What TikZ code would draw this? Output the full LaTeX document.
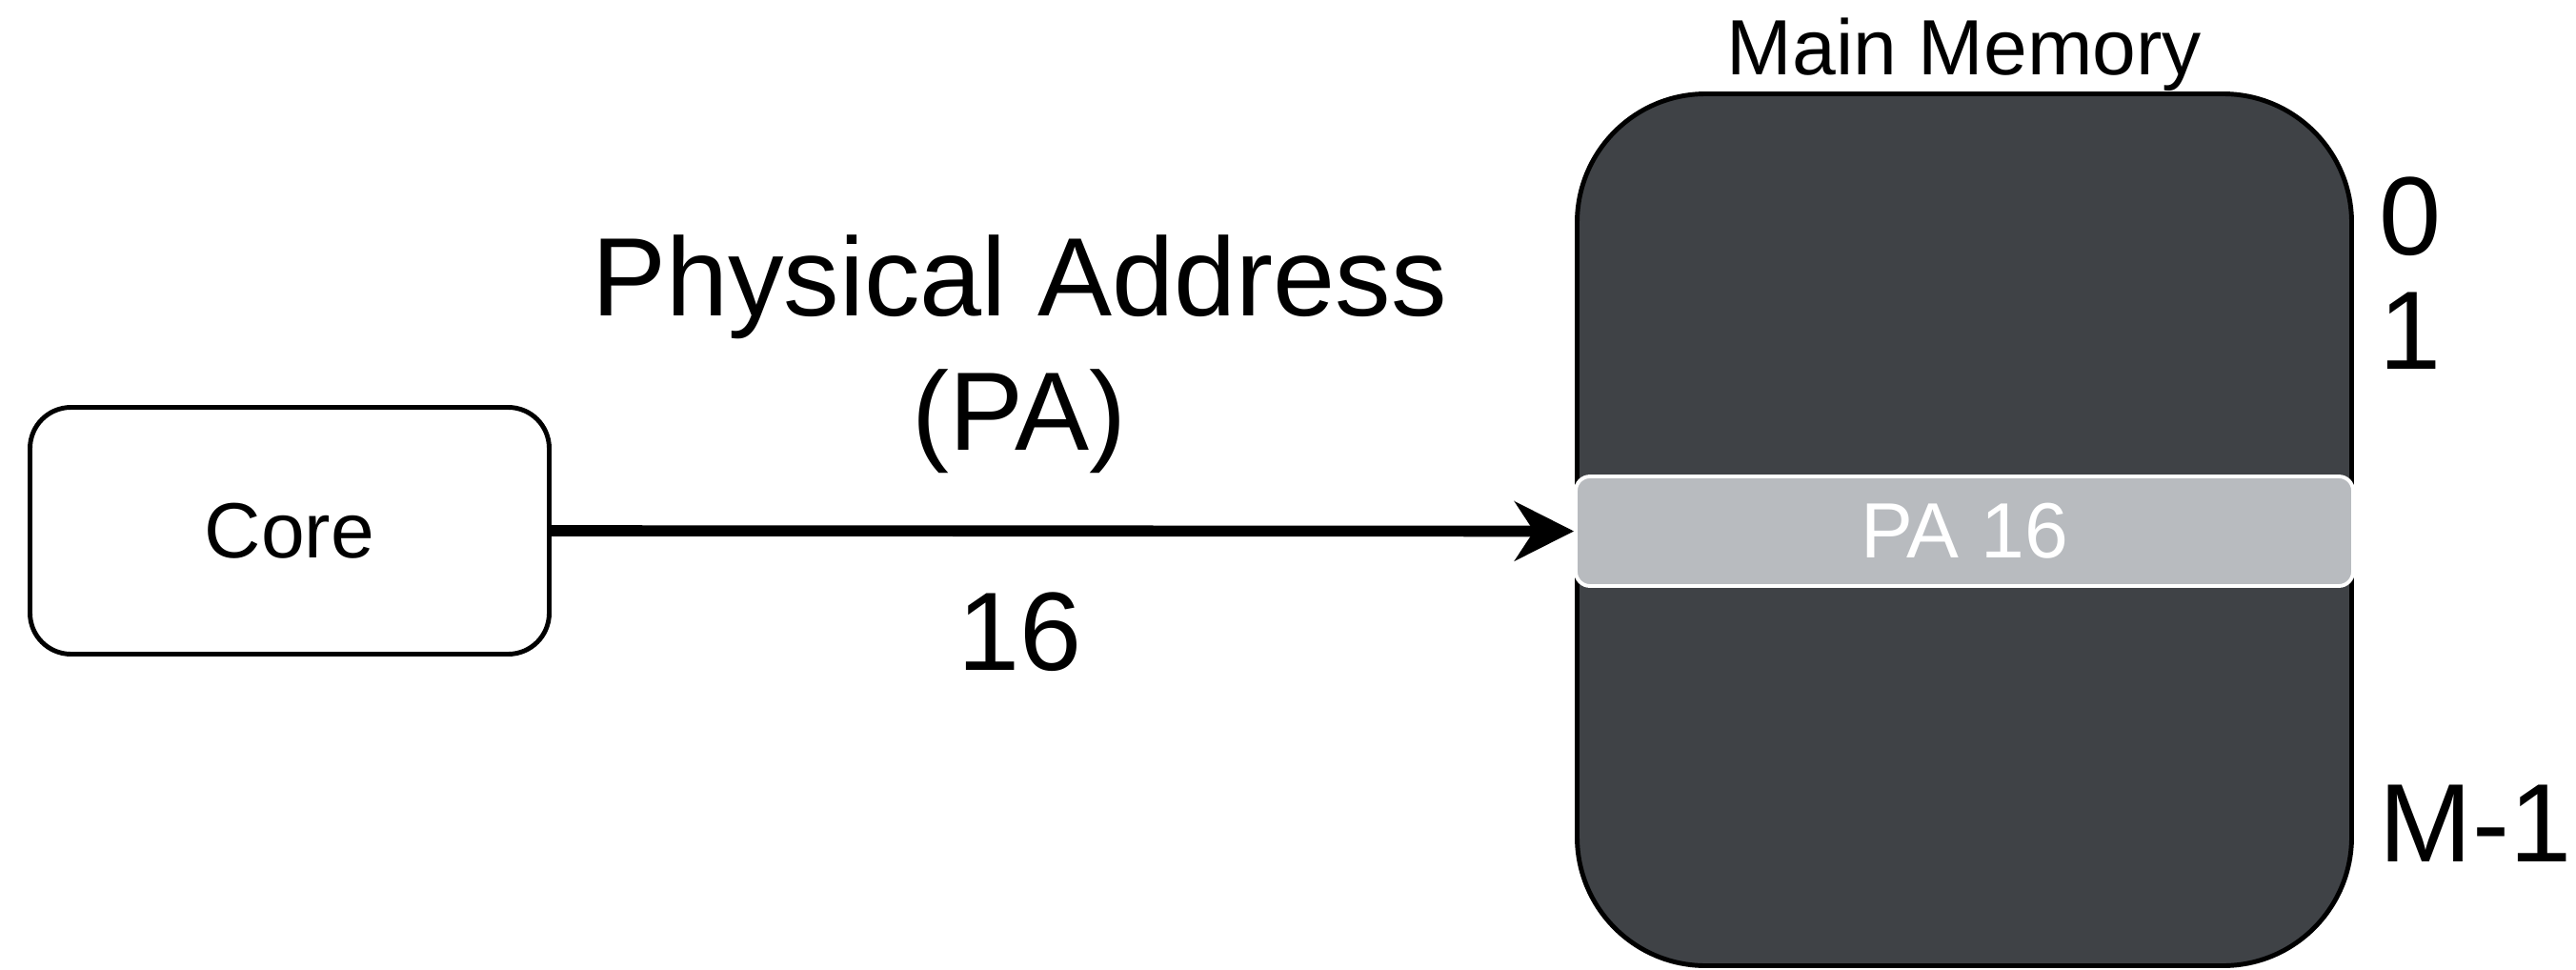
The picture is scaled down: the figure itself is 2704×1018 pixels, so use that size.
\documentclass[tikz,border=0pt]{standalone}
\usepackage{fontspec}
\setmainfont{Liberation Sans}
\usetikzlibrary{arrows.meta,positioning}
\definecolor{memdark}{RGB}{63,66,70}
\definecolor{slotgray}{RGB}{184,187,191}

\begin{document}
\begin{tikzpicture}[
		x=0.1mm, y=-0.1mm,
		>={Stealth[length=6.2mm, width=6.2mm, inset=2mm]},
		every node/.style={inner sep=0pt},
		% Stijlen
		bigtext/.style={font=\fontsize{33.3pt}{40pt}\selectfont},
		smalltext/.style={font=\fontsize{23.4pt}{28pt}\selectfont},
		unit/.style={draw=black, line width=1.4pt, rounded corners=4.3mm, fill=white, minimum width=54.5mm, minimum height=25.9mm, smalltext},
		memory/.style={draw=black, line width=1.4pt, fill=memdark, rounded corners=13.5mm, minimum width=81.3mm, minimum height=91.5mm},
		slot/.style={draw=white, line width=1.1pt, fill=slotgray, rounded corners=1.5mm, minimum width=81.6mm, minimum height=11.5mm, text=white, smalltext},
		bus/.style={->, line width=3.3pt}
	]

	\useasboundingbox (0,0) rectangle (2704,1018);

	% --- Core ---
	\node[unit] (core) at (304,557) {Core};

	% --- Hoofdgeheugen ---
	\node[memory] (mem) at (2062,556) {};
	\node[smalltext, anchor=base] (memlabel) at (2062,78) {Main Memory};
	\node[slot] (pa16) at (2062,557.5) {PA 16};

	% Adressen
	\node[bigtext, anchor=base west] (addr0) at (2497,267) {0};
	\node[bigtext, anchor=base west] (addr1) at (2497,387) {1};
	\node[bigtext, anchor=base west] (addrlast) at (2497,904) {M-1};

	% --- Adresbus ---
	\draw[bus] (core.east) -- (pa16.west);
	\node[bigtext, align=center, anchor=base] (palabel) at (1070,472) {Physical Address\\(PA)};
	\node[bigtext, anchor=base] (pabits) at (1071,703) {16};

\end{tikzpicture}
\end{document}
